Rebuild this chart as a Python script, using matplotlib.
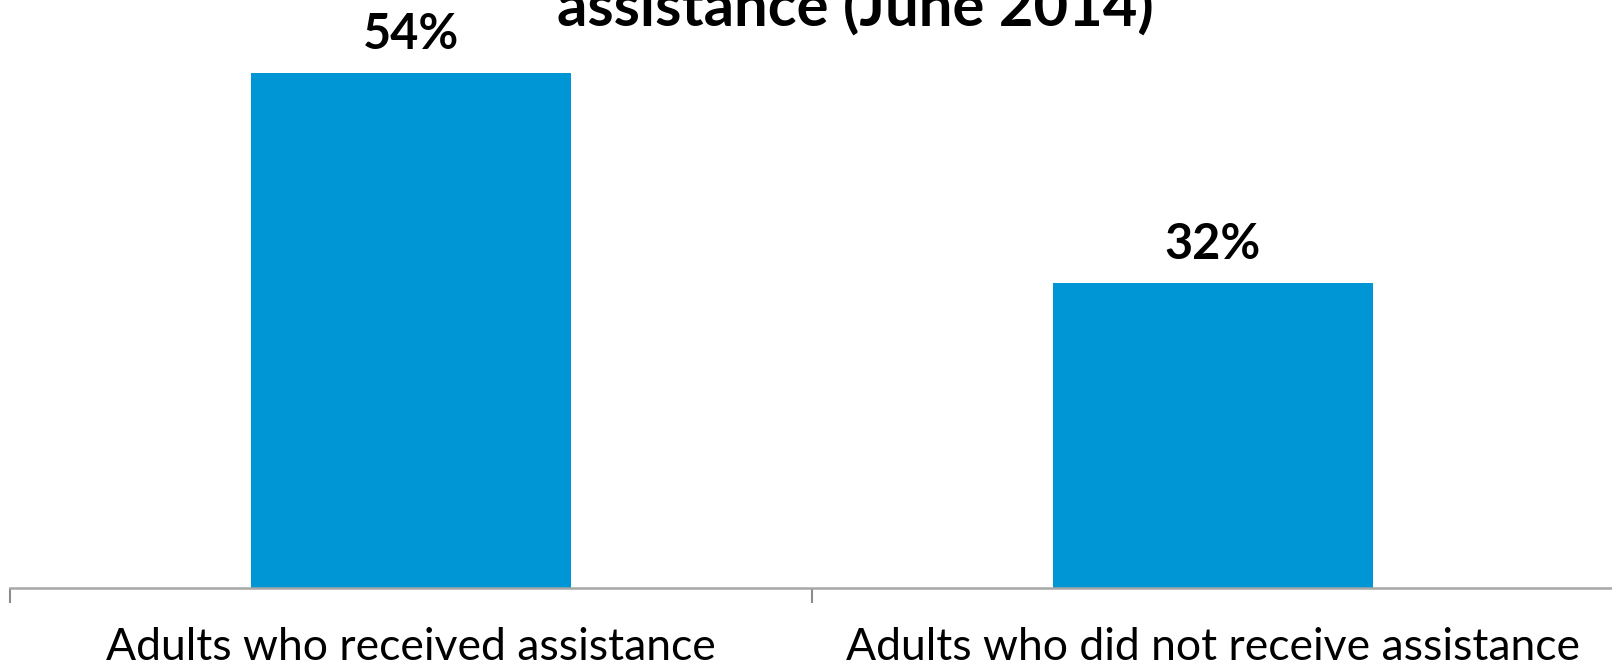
import matplotlib
matplotlib.use("Agg")
import matplotlib.pyplot as plt

categories = ["Adults who received assistance", "Adults who did not receive assistance"]
values = [54, 32]
value_labels = ["54%", "32%"]
title_line = "assistance (June 2014)"

plt.rcParams["font.family"] = ["Lato", "DejaVu Sans"]

W, H = 1612, 667
fig = plt.figure(figsize=(W / 100, H / 100), dpi=100)
ax = fig.add_axes([10 / W, 79 / H, 1604 / W, 588 / H])

x = range(len(values))
ax.bar(x, values, width=0.4, color="#0096D6", zorder=2)
for xi, v, lab in zip(x, values, value_labels):
    ax.annotate(lab, (xi, v), xytext=(0, 17), textcoords="offset points",
                ha="center", va="baseline", fontsize=35, fontweight="bold")

ax.set_xlim(-0.5, 1.5)
ax.set_ylim(0, 588 / 9.54)

for s in ["top", "right", "left"]:
    ax.spines[s].set_visible(False)
ax.spines["bottom"].set_color("#a6a6a6")
ax.spines["bottom"].set_linewidth(1.8)
ax.set_yticks([])

ax.set_xticks([-0.5, 0.5, 1.5])
ax.set_xticklabels([])
ax.tick_params(axis="x", which="major", length=11, width=1.5, color="#8c8c8c")
ax.set_xticks(list(x), minor=True)
ax.set_xticklabels(categories, minor=True, fontsize=32)
ax.tick_params(axis="x", which="minor", length=0, pad=28)

fig.text(855 / W, 1 - 27 / H, title_line, ha="center", va="baseline",
         fontsize=43, fontweight="bold")

fig.savefig("out.png", dpi=100)
